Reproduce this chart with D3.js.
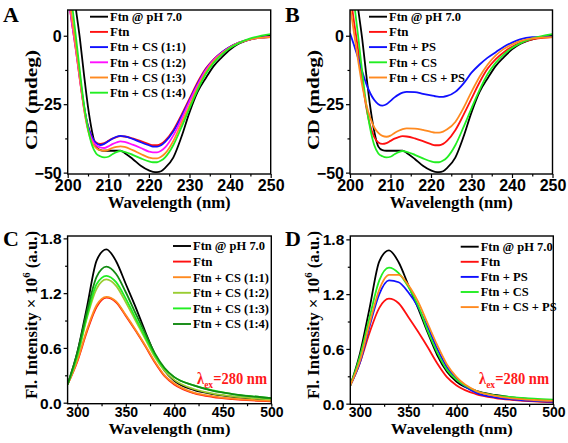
<!DOCTYPE html>
<html><head><meta charset="utf-8">
<script src="https://cdn.jsdelivr.net/npm/d3@7"></script>
<style>body{margin:0;background:#fff} svg{display:block}</style>
</head><body>
<svg id="c" width="568" height="443"></svg>
<script>
// ---------- DATA ----------
const cdWavelengths = [200,201,202,203,204,205,206,207,208,209,210,211,212,213,214,216,218,220,221,222,223,224,226,228,230,232,234,236,238,240,242,245,250];
const cdFtnPH7 = [35,22,10,-1,-14,-26,-35,-40.5,-41.8,-42,-42,-42,-42,-42,-42.8,-45,-47.5,-49.2,-49.7,-49.8,-49.5,-48.3,-44.5,-37,-28,-20.5,-15.5,-11,-7.8,-5,-3,-1.3,0];
const cdFtn = [16,5,-5,-16,-26,-33,-37,-39,-39.5,-39.2,-38.4,-37.6,-37,-36.7,-36.8,-37.5,-38.5,-39.6,-40,-40,-39.5,-38.3,-34.5,-29,-23,-17,-12,-8.5,-6,-4,-2.6,-1.3,-0.5];
const cdCS11 = [17,6,-4,-15,-25.5,-33,-37,-39.2,-39.9,-39.5,-38.5,-37.6,-36.9,-36.6,-36.8,-37.7,-38.9,-40,-40.5,-40.5,-40,-38.8,-35,-29.5,-23.5,-17.5,-12.3,-8.7,-6,-4,-2.6,-1.3,-0.4];
const cdCS12 = [16,5,-5,-16,-26.5,-34,-38,-40,-40.8,-41,-40.4,-39.6,-39,-38.6,-38.8,-39.8,-41,-42.3,-42.6,-42.6,-42,-40.8,-36.5,-30.5,-24,-18,-12.6,-8.8,-6.2,-4.2,-2.6,-1.2,-0.4];
const cdCS13 = [18,7,-4,-15.5,-26.5,-34.5,-39,-41,-41.8,-42,-41.7,-41,-40.6,-40.4,-40.6,-41.8,-43.2,-44.5,-44.8,-44.8,-44.2,-43,-38.5,-32,-25.5,-19,-13.3,-9.3,-6.5,-4.3,-2.7,-1.3,-0.5];
const cdCS14 = [22,12,0,-13,-25,-34,-40,-43,-44,-44.4,-44.2,-43.3,-42.5,-42.1,-42.4,-43.5,-44.8,-45.9,-46.2,-46.2,-45.6,-44.4,-40,-33.5,-26.5,-19.8,-14,-9.8,-6.8,-4.5,-2.8,-1,0.6];
const cdPS = [1,-3.5,-8,-13,-17.5,-21,-23.5,-25,-25.5,-25,-23.8,-22.5,-21.5,-20.8,-20.5,-20.6,-21.2,-21.8,-22.1,-22.3,-22.3,-22,-20.5,-17.5,-13.5,-10.5,-8,-6,-4,-2.5,-1.3,-0.5,-0.3];
const cdCSPS = [11,1,-9,-18,-25,-30,-33.5,-35.5,-36.6,-36.9,-36.5,-35.5,-34.7,-34.1,-33.8,-33.9,-34.4,-35.1,-35.4,-35.4,-35,-34.2,-31.5,-26.5,-20.5,-15,-10.5,-7.2,-4.8,-3.2,-2,-1,-0.5];

const flWavelengths = [290,300,310,320,330,340,350,360,370,380,390,400,420,440,460,480,500];
const flFtnPH7 = [0.20,0.55,1.05,1.56,1.68,1.55,1.30,1.05,0.78,0.53,0.35,0.24,0.14,0.095,0.065,0.045,0.03];
const flFtn = [0.20,0.45,0.78,1.05,1.15,1.10,0.95,0.79,0.62,0.44,0.29,0.20,0.105,0.062,0.04,0.025,0.015];
const flCS11 = [0.20,0.46,0.80,1.07,1.16,1.11,0.96,0.80,0.63,0.45,0.30,0.21,0.11,0.07,0.045,0.03,0.02];
const flCS12 = [0.20,0.50,0.93,1.25,1.35,1.28,1.10,0.90,0.70,0.50,0.35,0.25,0.15,0.10,0.07,0.05,0.035];
const flCS13 = [0.20,0.52,0.95,1.30,1.39,1.32,1.14,0.93,0.72,0.52,0.37,0.28,0.19,0.135,0.095,0.07,0.05];
const flCS14 = [0.20,0.55,1.00,1.38,1.49,1.41,1.21,0.98,0.76,0.54,0.38,0.28,0.19,0.13,0.095,0.07,0.05];
const flPS = [0.20,0.45,0.85,1.20,1.35,1.33,1.22,1.06,0.84,0.60,0.40,0.27,0.12,0.07,0.045,0.03,0.02];
const flCS = [0.20,0.52,0.95,1.35,1.49,1.43,1.28,1.08,0.80,0.56,0.37,0.26,0.14,0.09,0.07,0.055,0.045];
const flCSPS = [0.20,0.47,0.88,1.25,1.41,1.41,1.30,1.12,0.88,0.64,0.43,0.29,0.14,0.085,0.055,0.04,0.03];

const cdXTicks = [200,210,220,230,240,250];
const cdYTicks = [-50,-25,0];
const flXTicks = [300,350,400,450,500];
const flYTicks = [0,0.6,1.2,1.8];

const namesA = ["Ftn @ pH 7.0","Ftn","Ftn + CS (1:1)","Ftn + CS (1:2)","Ftn + CS (1:3)","Ftn + CS (1:4)"];
const namesB = ["Ftn @ pH 7.0","Ftn","Ftn + PS","Ftn + CS","Ftn + CS + PS"];
const namesC = ["Ftn @ pH 7.0","Ftn","Ftn + CS (1:1)","Ftn + CS (1:2)","Ftn + CS (1:3)","Ftn + CS (1:4)"];
const namesD = ["Ftn @ pH 7.0","Ftn","Ftn + PS","Ftn + CS","Ftn + CS + PS"];

// ---------- DRAW ----------
const svg = d3.select("#c");
const SERIF = "'Liberation Serif','Times New Roman',serif";
const SANS = "'Liberation Sans',Arial,sans-serif";

const colA = ["#000000","#ff1010","#1010ff","#ff10ff","#ff8a20","#22ee22"];
const colB = ["#000000","#ff1010","#1010ff","#22ee22","#ff8a20"];
const colC = ["#000000","#ff1010","#ff8a20","#9acd32","#22ee22","#128a12"];
const colD = ["#000000","#ff1010","#1010ff","#22ee22","#ff8a20"];

// label widths measured on the reference (px)
const legendWidth = n => n === "Ftn @ pH 7.0" ? 72 : n === "Ftn" ? 19.5 : n === "Ftn + PS" ? 47 : n === "Ftn + CS" ? 48 : 76;

function panel(cfg) {
  const g = svg.append("g");
  const x = d3.scaleLinear().domain(cfg.xd).range([cfg.x0, cfg.x1]);
  const y = d3.scaleLinear().domain(cfg.yd).range([cfg.y1, cfg.y0]);
  const clipId = "clip" + cfg.letter;
  svg.append("clipPath").attr("id", clipId).append("rect")
    .attr("x", cfg.x0).attr("y", cfg.y0).attr("width", cfg.x1 - cfg.x0).attr("height", cfg.y1 - cfg.y0);

  const line = d3.line().x((d,i)=>x(cfg.xs[i])).y(d=>y(d)).curve(d3.curveMonotoneX);
  const lg = g.append("g").attr("clip-path", `url(#${clipId})`);
  cfg.series.forEach((s,i)=>{
    lg.append("path").attr("d", line(s)).attr("fill","none")
      .attr("stroke", cfg.colors[i]).attr("stroke-width", 1.8).attr("stroke-linejoin","round");
  });

  // minor ticks
  const xMinor = d3.axisBottom(x).tickValues(cfg.xMinor).tickSize(2.5).tickFormat("");
  const yMinor = d3.axisLeft(y).tickValues(cfg.yMinor).tickSize(2.5).tickFormat("");
  g.append("g").attr("transform",`translate(0,${cfg.y1})`).call(xMinor).call(a=>a.select(".domain").remove());
  g.append("g").attr("transform",`translate(${cfg.x0},0)`).call(yMinor).call(a=>a.select(".domain").remove());

  const xAx = d3.axisBottom(x).tickValues(cfg.xTicks).tickSize(cfg.xTickSize).tickPadding(cfg.xPad).tickFormat(d3.format("d"));
  const yAx = d3.axisLeft(y).tickValues(cfg.yTicks).tickSize(4).tickPadding(2).tickFormat(cfg.yFmt);
  const xa = g.append("g").attr("transform",`translate(0,${cfg.y1})`).call(xAx);
  const ya = g.append("g").attr("transform",`translate(${cfg.x0},0)`).call(yAx);
  [xa, ya].forEach(a=>{
    a.select(".domain").remove();
    a.selectAll("text").attr("font-family", SANS).attr("font-weight","bold").attr("fill","#000");
  });
  xa.selectAll("text").attr("font-size", cfg.xTickFs);
  ya.selectAll("text").attr("font-size", cfg.yTickFs).attr("dy","0.36em");
  g.selectAll(".tick line").attr("stroke","#000").attr("stroke-width",1.2);

  // frame
  g.append("rect").attr("x",cfg.x0).attr("y",cfg.y0).attr("width",cfg.x1-cfg.x0).attr("height",cfg.y1-cfg.y0)
    .attr("fill","none").attr("stroke","#000").attr("stroke-width",1.4);

  // axis titles
  g.append("text").attr("x",(cfg.x0+cfg.x1)/2).attr("y",cfg.xtY).attr("text-anchor","middle")
    .attr("font-family",SERIF).attr("font-weight","bold").attr("font-size",cfg.xtFs)
    .attr("textLength", cfg.xtLen).attr("lengthAdjust","spacingAndGlyphs")
    .text("Wavelength (nm)");
  const yt = g.append("text").attr("transform",`translate(${cfg.ytX},${cfg.ytY}) rotate(-90)`)
    .attr("text-anchor","middle").attr("font-family",SERIF).attr("font-weight","bold").attr("font-size",17)
    .attr("textLength", cfg.ytLen).attr("lengthAdjust","spacingAndGlyphs");
  if (cfg.fl) {
    yt.append("tspan").text("Fl. Intensity \u00d7 10");
    yt.append("tspan").attr("font-size",11).attr("dy",-7).text("6");
    yt.append("tspan").attr("dy",7).text(" (a.u.)");
  } else {
    yt.text("CD (mdeg)");
  }

  // panel letter
  g.append("text").attr("x",cfg.lx).attr("y",cfg.ly).attr("font-family",SERIF).attr("font-weight","bold")
    .attr("font-size",22).text(cfg.letter);

  // legend
  cfg.names.forEach((n,i)=>{
    const yy = cfg.legY + i*cfg.legDy;
    g.append("line").attr("x1",cfg.legX).attr("x2",cfg.legX+18).attr("y1",yy).attr("y2",yy)
      .attr("stroke",cfg.colors[i]).attr("stroke-width",1.9);
    g.append("text").attr("x",cfg.legX+20).attr("y",yy+4.3).attr("font-family",SERIF).attr("font-weight","bold")
      .attr("font-size",12.5).attr("fill","#000")
      .attr("textLength", legendWidth(n)).attr("lengthAdjust","spacingAndGlyphs").text(n);
  });

  if (cfg.fl) {
    const t = g.append("text").attr("x",cfg.lamX).attr("y",384).attr("font-family",SERIF).attr("font-weight","bold")
      .attr("font-size",16).attr("fill","#ff1a1a")
      .attr("textLength",70).attr("lengthAdjust","spacingAndGlyphs");
    t.append("tspan").text("\u03bb");
    t.append("tspan").attr("font-size",10.5).attr("dy",3.5).text("ex");
    t.append("tspan").attr("dy",-3.5).text("=280 nm");
  }
}

const cdXMinor = [205,215,225,235,245];
const cdYMinor = [-37.5,-12.5];
const flXMinor = [325,375,425,475];
const flYMinor = [0.3,0.9,1.5];

panel({letter:"A", xs:cdWavelengths, xd:[200,250], yd:[-50.5,9.4], x0:67.7, x1:270.7, y0:10, y1:174,
  series:[cdFtnPH7,cdFtn,cdCS11,cdCS12,cdCS13,cdCS14], colors:colA, names:namesA,
  xTicks:cdXTicks, yTicks:cdYTicks, xMinor:cdXMinor, yMinor:cdYMinor, yFmt:d3.format("d"),
  xTickFs:16, yTickFs:16, xTickSize:4, xPad:1.5, xtFs:17,
  xtY:207.5, xtLen:123, ytX:36.5, ytY:100, ytLen:100, lx:3, ly:22, legX:90, legY:16.7, legDy:15.2});
panel({letter:"B", xs:cdWavelengths, xd:[200,250], yd:[-50.5,9.4], x0:350, x1:552.5, y0:10, y1:174,
  series:[cdFtnPH7,cdFtn,cdPS,cdCS14,cdCSPS], colors:colB, names:namesB,
  xTicks:cdXTicks, yTicks:cdYTicks, xMinor:cdXMinor, yMinor:cdYMinor, yFmt:d3.format("d"),
  xTickFs:16, yTickFs:16, xTickSize:4, xPad:1.5, xtFs:17,
  xtY:207.5, xtLen:123, ytX:318.5, ytY:100, ytLen:100, lx:285, ly:22, legX:369, legY:16.7, legDy:15.2});
panel({letter:"C", xs:flWavelengths, xd:[290,500], yd:[-0.011,1.826], x0:67.6, x1:271.3, y0:236, y1:403.7,
  series:[flFtnPH7,flFtn,flCS11,flCS12,flCS13,flCS14], colors:colC, names:namesC, fl:true,
  xTicks:flXTicks, yTicks:flYTicks, xMinor:flXMinor, yMinor:flYMinor, yFmt:d3.format(".1f"),
  xTickFs:14, yTickFs:15.5, xTickSize:3, xPad:0, xtFs:15.5,
  xtY:433.5, xtLen:122, ytX:36.5, ytY:315, ytLen:168, lx:3, ly:246, legX:173, legY:246, legDy:15.6, lamX:197});
panel({letter:"D", xs:flWavelengths, xd:[290,500], yd:[-0.007,1.837], x0:350.3, x1:553.3, y0:236, y1:404.3,
  series:[flFtnPH7,flFtn,flPS,flCS,flCSPS], colors:colD, names:namesD, fl:true,
  xTicks:flXTicks, yTicks:flYTicks, xMinor:flXMinor, yMinor:flYMinor, yFmt:d3.format(".1f"),
  xTickFs:14, yTickFs:15.5, xTickSize:3, xPad:0, xtFs:15.5,
  xtY:433.5, xtLen:122, ytX:318.5, ytY:315, ytLen:168, lx:285, ly:246, legX:460.7, legY:246.7, legDy:15.1, lamX:479});
</script>
</body></html>
